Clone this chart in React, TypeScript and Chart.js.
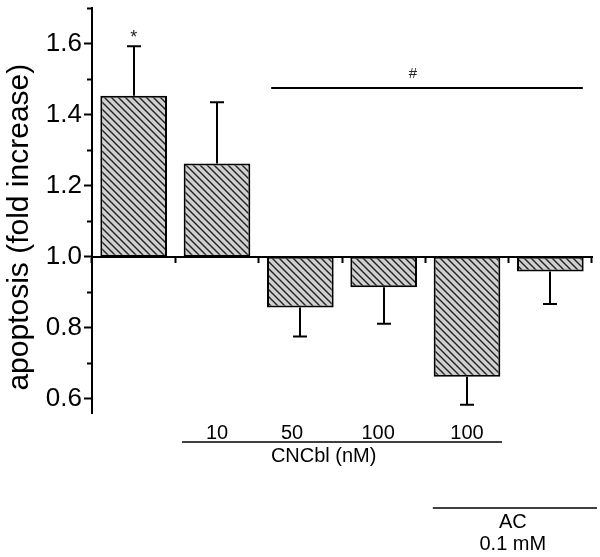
import React, { useEffect, useRef } from 'react';
import { Chart, registerables } from 'chart.js';

Chart.register(...registerables);

// ---- data ----
const CATEGORIES = ['', '10', '50   ', '100  ', '100', ''];
const VALUES = [1.453, 1.262, 0.857, 0.914, 0.662, 0.958];
const SEM = [0.139, 0.173, 0.082, 0.103, 0.079, 0.091];
const BASE = 1.0;
const Y_MIN = 0.56;
const Y_MAX = 1.7;
const Y_TICKS = [0.6, 0.7, 0.8, 0.9, 1.0, 1.1, 1.2, 1.3, 1.4, 1.5, 1.6, 1.7];
const Y_LABELED = [0.6, 0.8, 1.0, 1.2, 1.4, 1.6];
const Y_TITLE = 'apoptosis (fold increase)    ';

// significance marks (x in category units, y in data units)
const STAR = { text: '*', x: 0, y: 1.625 };
const HASH = { text: '#', x: 3.35, y: 1.515, lineFrom: 1.65, lineTo: 5.39, lineY: 1.476 };

// treatment groups below the axis (x in category units)
const GROUP_NAMES = [['CNCbl (nM)'], ['AC', '0.1 mM']];
const GROUP_FROM = [0.58, 3.59];
const GROUP_TO = [4.42, 5.56];
const GROUP_TEXT_X = [2.28, 4.55];

const FONT = '"Liberation Sans", Arial, sans-serif';

function makeHatch(): CanvasPattern | string {
  const p = 7;
  const c = document.createElement('canvas');
  c.width = p;
  c.height = p;
  const g = c.getContext('2d');
  if (!g) return '#999';
  g.fillStyle = '#d0d0d0';
  g.fillRect(0, 0, p, p);
  g.strokeStyle = '#222';
  g.lineWidth = 1.4;
  g.beginPath();
  for (const k of [-p, 0, p]) {
    g.moveTo(k - 1, -1);
    g.lineTo(k + p + 1, p + 1);
  }
  g.stroke();
  const pat = g.createPattern(c, 'repeat');
  return pat || '#999';
}

const annotations = {
  id: 'annotations',
  afterDatasetsDraw(chart: any) {
    const { ctx, chartArea } = chart;
    const x = chart.scales.x;
    const y = chart.scales.y;
    ctx.save();
    // error bars
    ctx.strokeStyle = '#000';
    ctx.lineWidth = 2;
    VALUES.forEach((v, i) => {
      const px = Math.round(x.getPixelForValue(i));
      const end = v >= BASE ? v + SEM[i] : v - SEM[i];
      const y0 = y.getPixelForValue(v);
      const y1 = y.getPixelForValue(end);
      ctx.beginPath();
      ctx.moveTo(px, y0);
      ctx.lineTo(px, y1);
      ctx.moveTo(px - 7, y1);
      ctx.lineTo(px + 7, y1);
      ctx.stroke();
    });

    // significance
    ctx.fillStyle = '#222';
    ctx.textAlign = 'center';
    ctx.textBaseline = 'middle';
    ctx.font = `18px ${FONT}`;
    ctx.fillText(STAR.text, x.getPixelForValue(STAR.x), y.getPixelForValue(STAR.y) + 3);
    ctx.font = `15px ${FONT}`;
    ctx.fillText(HASH.text, x.getPixelForValue(HASH.x), y.getPixelForValue(HASH.y));
    ctx.lineWidth = 2;
    ctx.beginPath();
    const hy = Math.round(y.getPixelForValue(HASH.lineY));
    ctx.moveTo(x.getPixelForValue(HASH.lineFrom), hy);
    ctx.lineTo(x.getPixelForValue(HASH.lineTo), hy);
    ctx.stroke();

    // groups
    const bottom = chartArea.bottom;
    const lineOffsets = [29, 95];
    const textOffsets = [[43], [109, 131]];
    ctx.fillStyle = '#000';
    ctx.font = `20px ${FONT}`;
    GROUP_NAMES.forEach((names, gi) => {
      const ly = Math.round(bottom + lineOffsets[gi]);
      ctx.lineWidth = 1.6;
      ctx.beginPath();
      ctx.moveTo(x.getPixelForValue(GROUP_FROM[gi]), ly);
      ctx.lineTo(x.getPixelForValue(GROUP_TO[gi]), ly);
      ctx.stroke();
      names.forEach((n, ni) => {
        ctx.fillText(n, x.getPixelForValue(GROUP_TEXT_X[gi]), bottom + textOffsets[gi][ni]);
      });
    });
    ctx.restore();
  },
};

export default function App() {
  const ref = useRef<HTMLCanvasElement | null>(null);
  useEffect(() => {
    if (!ref.current) return;
    const hatch = makeHatch();
    const chart = new Chart(ref.current, {
      type: 'bar',
      data: {
        labels: CATEGORIES,
        datasets: [
          {
            data: VALUES.map((v) => [BASE, v]) as any,
            backgroundColor: hatch as any,
            borderColor: '#000',
            borderWidth: 2,
            borderSkipped: false,
            barPercentage: 0.8,
            categoryPercentage: 1,
            xAxisID: 'x',
            yAxisID: 'y',
          },
        ],
      },
      options: {
        animation: false,
        responsive: false,
        maintainAspectRatio: false,
        layout: { padding: { left: 0, right: 8, top: 8, bottom: 0 } },
        plugins: { legend: { display: false }, tooltip: { enabled: false } },
        scales: {
          y: {
            type: 'linear',
            position: 'left',
            min: Y_MIN,
            max: Y_MAX,
            afterBuildTicks: (scale: any) => {
              scale.ticks = Y_TICKS.map((v) => ({ value: v }));
            },
            afterFit: (scale: any) => {
              scale.width = 92;
              scale.paddingTop = 0;
              scale.paddingBottom = 0;
            },
            border: { display: true, color: '#000', width: 2 },
            grid: {
              drawOnChartArea: false,
              drawTicks: true,
              tickLength: 8,
              tickColor: '#000',
              tickWidth: 2,
              tickBorderDash: (ctx: any) =>
                Y_LABELED.some((v) => Math.abs(v - ctx.tick?.value) < 1e-6) ? [] : [5, 3],
              tickBorderDashOffset: 5,
            } as any,
            ticks: {
              padding: 2,
              color: '#000',
              font: { family: FONT, size: 26 },
              callback: (v: any) =>
                Y_LABELED.some((t) => Math.abs(t - Number(v)) < 1e-6) ? Number(v).toFixed(1) : '',
            },
            title: {
              display: true,
              text: Y_TITLE,
              color: '#000',
              font: { family: FONT, size: 30 },
              padding: { top: 2, bottom: 0 },
            },
          },
          x: {
            type: 'category',
            position: { y: BASE } as any,
            offset: true,
            border: { display: true, color: '#000', width: 2 },
            grid: {
              offset: true,
              drawOnChartArea: false,
              drawTicks: true,
              tickLength: 5,
              tickColor: '#000',
              tickWidth: 2,
            },
            ticks: { display: false },
          },
          xLab: {
            type: 'category',
            position: 'bottom',
            labels: CATEGORIES,
            offset: true,
            afterFit: (scale: any) => {
              scale.height = 144;
            },
            border: { display: false },
            grid: { display: false, drawTicks: false },
            ticks: {
              padding: 8,
              color: '#000',
              font: { family: FONT, size: 20 },
              maxRotation: 0,
              autoSkip: false,
            },
          },
        },
      },
      plugins: [annotations],
    });
    return () => chart.destroy();
  }, []);

  return (
    <div style={{ position: 'fixed', left: 0, top: 0, width: 600, height: 557, background: '#fff' }}>
      <canvas ref={ref} width={600} height={557} style={{ width: 600, height: 557, display: 'block' }} />
    </div>
  );
}
